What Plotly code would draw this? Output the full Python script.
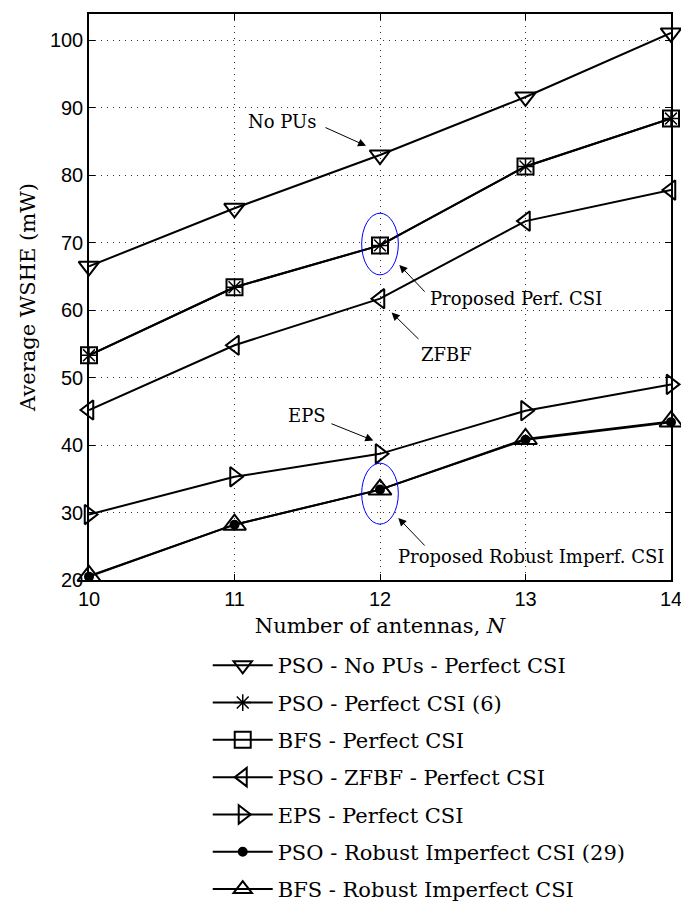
import plotly.graph_objects as go

antennas = [10, 11, 12, 13, 14]
pso_no_pus = [66.5, 75.1, 83.0, 91.6, 101.1]
pso_perfect = [53.3, 63.4, 69.6, 81.3, 88.4]
bfs_perfect = [53.3, 63.4, 69.6, 81.3, 88.4]
pso_zfbf = [45.2, 54.8, 61.7, 73.2, 77.8]
eps_perfect = [29.7, 35.3, 38.7, 45.1, 49.0]
pso_robust = [20.5, 28.2, 33.4, 40.8, 43.4]
bfs_robust = [20.6, 28.2, 33.4, 40.9, 43.5]

names = [
    "PSO - No PUs - Perfect CSI",
    "PSO - Perfect CSI (6)",
    "BFS - Perfect CSI",
    "PSO - ZFBF - Perfect CSI",
    "EPS - Perfect CSI",
    "PSO - Robust Imperfect CSI (29)",
    "BFS - Robust Imperfect CSI",
]

SERIF = "DejaVu Serif"
SANS = "Liberation Sans, Arial"
LW = 2

fig = go.Figure()

def add(y, name, symbol, size, rank, mlw=2):
    fig.add_trace(go.Scatter(
        x=antennas, y=y, name=name, mode="lines+markers", cliponaxis=False,
        line=dict(color="black", width=LW),
        marker=dict(symbol=symbol, size=size, color="black",
                    line=dict(color="black", width=mlw)),
        legendrank=rank, legendgroup=name,
    ))

add(pso_no_pus, names[0], "triangle-down-open", 18, 1)
add(bfs_perfect, names[2], "square-open", 16, 3)
add(pso_perfect, names[1], "asterisk-open", 14, 2, 1.5)
add(pso_zfbf, names[3], "triangle-left-open", 17, 4)
add(eps_perfect, names[4], "triangle-right-open", 17, 5)
add(bfs_robust, names[6], "triangle-up-open", 20, 7)
add(pso_robust, names[5], "circle", 8, 6)

# ellipses
for cy, ry in [(69.8, 4.57), (32.8, 4.52)]:
    fig.add_shape(type="circle", xref="x", yref="y",
                  x0=12 - 0.126, x1=12 + 0.126, y0=cy - ry, y1=cy + ry,
                  line=dict(color="blue", width=1))

ann = []
def arrow(hx, hy, tx, ty):
    ann.append(dict(x=hx, y=hy, ax=tx, ay=ty, xref="x", yref="y", axref="x", ayref="y",
                    text="", showarrow=True, arrowhead=2, arrowsize=1.6, arrowwidth=1,
                    arrowcolor="black", standoff=0, startstandoff=0))
def label(x, y, text, anchor="left"):
    ann.append(dict(x=x, y=y, xref="x", yref="y", text=text, showarrow=False,
                    xanchor=anchor, yanchor="middle",
                    font=dict(family=SERIF, size=18, color="black")))

arrow(11.904, 84.36, 11.615, 87.17)
label(11.076, 87.9, "No PUs")
arrow(12.133, 66.71, 12.317, 62.52)
label(12.332, 61.8, "Proposed Perf. CSI")
arrow(12.080, 59.64, 12.275, 55.5)
label(12.454, 53.48, "ZFBF", "center")
arrow(11.954, 40.68, 11.656, 43.26)
label(11.496, 44.34, "EPS", "center")
arrow(12.126, 29.19, 12.317, 24.89)
label(12.11, 23.5, "Proposed Robust Imperf. CSI")

axis_common = dict(
    showline=True, linecolor="black", linewidth=1.5, mirror="ticks",
    ticks="inside", ticklen=6, tickwidth=1, tickcolor="black",
    showgrid=True, gridcolor="#333", gridwidth=1, griddash="1px,5px",
    zeroline=False, tickfont=dict(family=SANS, size=20, color="black"),
    ticklabeloverflow="allow",
)

fig.update_xaxes(range=[10, 14], tickvals=antennas, **axis_common,
                 title=dict(text="Number of antennas, <i>N</i>", standoff=10,
                            font=dict(family=SERIF, size=21, color="black")))
fig.update_yaxes(range=[20, 103.9], tickvals=[20, 30, 40, 50, 60, 70, 80, 90, 100], **axis_common,
                 title=dict(text="Average WSHE (mW)", standoff=9,
                            font=dict(family=SERIF, size=21, color="black")))

fig.update_layout(
    width=681, height=903,
    margin=dict(l=89, r=10, t=14, b=323, autoexpand=False),
    plot_bgcolor="white", paper_bgcolor="white",
    annotations=ann,
    showlegend=True,
    legend=dict(x=0.204, y=-0.115, xanchor="left", yanchor="top",
                font=dict(family=SERIF, size=21, color="black"),
                itemwidth=60, tracegroupgap=7, bgcolor="rgba(0,0,0,0)"),
)

fig.write_html("out.html")
